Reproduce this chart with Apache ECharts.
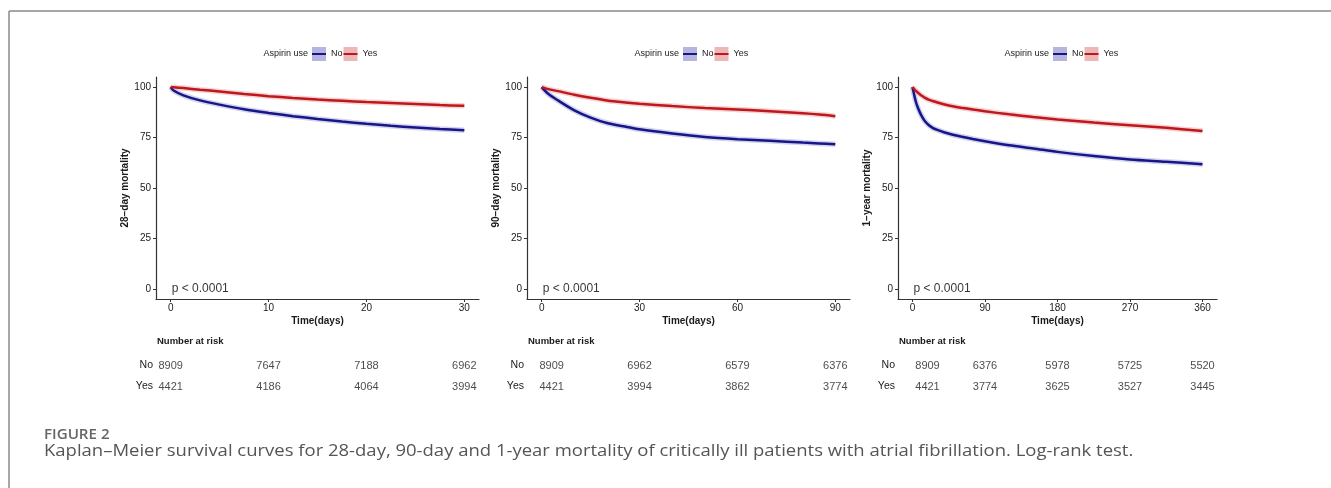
<!DOCTYPE html>
<html>
<head>
<meta charset="utf-8">
<script src="https://cdn.jsdelivr.net/npm/echarts@6/dist/echarts.min.js"></script>
<style>
html,body{margin:0;padding:0;background:#fff;}
#c{width:1331px;height:488px;}
</style>
</head>
<body>
<div id="c"></div>
<script>
// ---------- data ----------
const groups = ['No', 'Yes'];
const pText = 'p < 0.0001';

// 28-day
const t28 = [0, 0.3, 1.3, 3, 5, 7.5, 10, 12.5, 15, 17.5, 20, 22.5, 25, 27.5, 30];
const no28 = [100, 98.3, 95.9, 93.4, 91.3, 89.0, 87.2, 85.6, 84.2, 82.9, 81.8, 80.8, 80.0, 79.2, 78.6];
const yes28 = [100, 99.9, 99.5, 98.7, 97.8, 96.6, 95.5, 94.6, 93.8, 93.2, 92.6, 92.1, 91.6, 91.1, 90.7];
const ticks28 = [0, 10, 20, 30];
const riskNo28 = [8909, 7647, 7188, 6962];
const riskYes28 = [4421, 4186, 4064, 3994];

// 90-day
const t90 = [0, 2, 5, 10, 15, 20, 25, 30, 40, 50, 60, 70, 80, 85, 90];
const no90 = [100, 96.7, 93.4, 88.5, 84.9, 82.2, 80.6, 79.1, 77.0, 75.3, 74.2, 73.4, 72.5, 72.1, 71.7];
const yes90 = [100, 99.0, 98.0, 96.2, 94.7, 93.4, 92.5, 91.8, 90.6, 89.6, 88.9, 88.0, 87.0, 86.4, 85.6];
const ticks90 = [0, 30, 60, 90];
const riskNo90 = [8909, 6962, 6579, 6376];
const riskYes90 = [4421, 3994, 3862, 3774];

// 1-year
const t365 = [0, 2, 4, 6, 9, 12, 15, 20, 25, 30, 40, 50, 60, 75, 90, 120, 150, 180, 225, 270, 315, 360];
const no365 = [100, 96.3, 93.0, 90.5, 87.6, 85.2, 83.3, 81.2, 79.8, 78.9, 77.5, 76.4, 75.5, 74.3, 73.2, 71.2, 69.6, 67.9, 65.8, 64.1, 63.0, 61.8];
const yes365 = [100, 99.0, 98.2, 97.5, 96.5, 95.6, 94.8, 93.8, 93.1, 92.5, 91.4, 90.5, 89.8, 88.9, 88.0, 86.5, 85.2, 84.0, 82.4, 81.1, 79.8, 78.2];
const ticks365 = [0, 90, 180, 270, 360];
const riskNo365 = [8909, 6376, 5978, 5725, 5520];
const riskYes365 = [4421, 3774, 3625, 3527, 3445];

const yTicks = [0, 25, 50, 75, 100];
const yTitles = ['28\u2212day mortality', '90\u2212day mortality', '1\u2212year mortality'];
const xTitle = 'Time(days)';
const legendTitle = 'Aspirin use';
const riskTitle = 'Number at risk';
const figLabel = 'FIGURE 2';
const caption = 'Kaplan\u2013Meier survival curves for 28-day, 90-day and 1-year mortality of critically ill patients with atrial fibrillation. Log-rank test.';

// ---------- styling / layout ----------
const BLUE = '#16168a', RED = '#c0161e';
const BLUE_L = '#b5b5dd', RED_L = '#ebb7b7';
const TXT = '#1a1a1a';
const FONT = '"Liberation Sans", Arial, sans-serif';

const panels = [
  {t: t28, no: no28, yes: yes28, ticks: ticks28, rNo: riskNo28, rYes: riskYes28, left: 156, width: 323, xmin: -1.5, xmax: 31.5, legLeft: 312, firstOff: 0},
  {t: t90, no: no90, yes: yes90, ticks: ticks90, rNo: riskNo90, rYes: riskYes90, left: 527, width: 323, xmin: -4.5, xmax: 94.5, legLeft: 683, firstOff: 10},
  {t: t365, no: no365, yes: yes365, ticks: ticks365, rNo: riskNo365, rYes: riskYes365, left: 898, width: 319, xmin: -18, xmax: 378, legLeft: 1053, firstOff: 15}
];

const pairs = (t, v) => t.map((x, i) => [x, v[i]]);

const grid = [], xAxis = [], yAxis = [], series = [], legend = [], graphic = [];

panels.forEach((p, k) => {
  grid.push({left: p.left, top: 77, width: p.width, height: 222, containLabel: false});
  grid.push({left: p.left, top: 355, width: p.width, height: 42, containLabel: false});
  const gi = 2 * k, ti = 2 * k + 1;

  xAxis.push({
    type: 'value', gridIndex: gi, min: p.xmin, max: p.xmax,
    axisLine: {show: true, onZero: false, lineStyle: {color: '#333', width: 1.2}},
    axisTick: {show: true, length: 3, customValues: p.ticks, lineStyle: {color: '#333'}},
    axisLabel: {customValues: p.ticks, margin: 4, fontSize: 10, color: TXT, fontFamily: FONT},
    splitLine: {show: false},
    name: xTitle, nameLocation: 'middle', nameGap: 17,
    nameTextStyle: {fontSize: 10, fontWeight: 'bold', color: TXT, fontFamily: FONT}
  });
  xAxis.push({
    type: 'value', gridIndex: ti, min: p.xmin, max: p.xmax, show: false
  });
  yAxis.push({
    type: 'value', gridIndex: gi, min: -5, max: 105,
    axisLine: {show: true, onZero: false, lineStyle: {color: '#333', width: 1.2}},
    axisTick: {show: true, length: 3, customValues: yTicks, lineStyle: {color: '#333'}},
    axisLabel: {customValues: yTicks, margin: 5, fontSize: 10, color: TXT, fontFamily: FONT},
    splitLine: {show: false},
    name: yTitles[k], nameLocation: 'middle', nameGap: 25,
    nameTextStyle: {fontSize: 10, fontWeight: 'bold', color: TXT, fontFamily: FONT}
  });
  yAxis.push({
    type: 'category', gridIndex: ti, data: ['Yes', 'No'],
    axisLine: {show: false}, axisTick: {show: false},
    axisLabel: {margin: 3, fontSize: 10.5, color: TXT, fontFamily: FONT},
    splitLine: {show: false}
  });

  const lineCommon = {type: 'line', xAxisIndex: gi, yAxisIndex: gi, showSymbol: false, symbol: 'none',
    smooth: 0.3, silent: true, animation: false};
  series.push(Object.assign({}, lineCommon, {name: 'No band', data: pairs(p.t, p.no), z: 1,
    lineStyle: {color: BLUE_L, width: 5.5, opacity: 0.6}}));
  series.push(Object.assign({}, lineCommon, {name: 'Yes band', data: pairs(p.t, p.yes), z: 1,
    lineStyle: {color: RED_L, width: 5.5, opacity: 0.6}}));
  series.push(Object.assign({}, lineCommon, {name: 'No', data: pairs(p.t, p.no), z: 3,
    itemStyle: {color: BLUE}, lineStyle: {color: BLUE, width: 2.5}}));
  series.push(Object.assign({}, lineCommon, {name: 'Yes', data: pairs(p.t, p.yes), z: 3,
    itemStyle: {color: RED}, lineStyle: {color: RED, width: 2.5}}));

  // p value
  series.push({
    type: 'scatter', xAxisIndex: gi, yAxisIndex: gi, symbolSize: 0, silent: true, animation: false,
    data: [[0, 0]],
    label: {show: true, position: 'right', distance: 1, formatter: () => pText,
      fontSize: 12, color: '#000', fontFamily: FONT}
  });

  // risk table
  const mkRow = (vals, grp) => p.ticks.map((tv, i) => ({
    value: [tv, grp, vals[i]],
    label: {offset: [i === 0 ? p.firstOff : 0, 0]}
  }));
  series.push({
    type: 'scatter', xAxisIndex: ti, yAxisIndex: ti, symbolSize: 0, silent: true, animation: false,
    data: mkRow(p.rNo, 'No').concat(mkRow(p.rYes, 'Yes')),
    label: {show: true, position: 'inside', formatter: (d) => String(d.value[2]),
      fontSize: 11, color: TXT, fontFamily: FONT}
  });

  // legends: boxes + line overlay
  legend.push({
    left: p.legLeft, top: 47, padding: 0, orient: 'horizontal', itemGap: 1, selectedMode: false,
    icon: 'rect', itemWidth: 14, itemHeight: 14,
    textStyle: {fontSize: 9, lineHeight: 14, color: TXT, fontFamily: FONT},
    data: [{name: 'No', itemStyle: {color: BLUE_L}}, {name: 'Yes', itemStyle: {color: RED_L}}]
  });
  legend.push({
    left: p.legLeft, top: 47, padding: 0, orient: 'horizontal', itemGap: 1, selectedMode: false,
    icon: 'rect', itemWidth: 14, itemHeight: 2,
    textStyle: {fontSize: 9, lineHeight: 14, color: 'rgba(0,0,0,0)', fontFamily: FONT},
    data: [{name: 'No', itemStyle: {color: BLUE}}, {name: 'Yes', itemStyle: {color: RED}}]
  });

  graphic.push({type: 'text', x: p.legLeft - 4, y: 54,
    style: {text: legendTitle, fill: TXT, font: '9px ' + FONT, textAlign: 'right', textVerticalAlign: 'middle'}});
  graphic.push({type: 'text', x: p.left + 1, y: 341,
    style: {text: riskTitle, fill: TXT, font: 'bold 9.5px ' + FONT, textVerticalAlign: 'middle'}});
});

// frame and caption
graphic.push({type: 'line', shape: {x1: 9, y1: 11, x2: 1331, y2: 11}, style: {stroke: '#8a8a8a', lineWidth: 1.5}});
graphic.push({type: 'line', shape: {x1: 9, y1: 11, x2: 9, y2: 488}, style: {stroke: '#8a8a8a', lineWidth: 1.5}});
graphic.push({type: 'text', x: 44, y: 435, scaleX: 1.08,
  style: {text: figLabel, fill: '#666', font: '600 14px "Open Sans", sans-serif', textVerticalAlign: 'middle'}});
graphic.push({type: 'text', x: 44, y: 451, scaleX: 1.155,
  style: {text: caption, fill: '#555', font: '16px "Open Sans", sans-serif', textVerticalAlign: 'middle'}});

const chart = echarts.init(document.getElementById('c'), null, {renderer: 'canvas'});
chart.setOption({
  animation: false,
  backgroundColor: '#fff',
  textStyle: {fontFamily: FONT},
  grid, xAxis, yAxis, series, legend, graphic
});
</script>
</body>
</html>
